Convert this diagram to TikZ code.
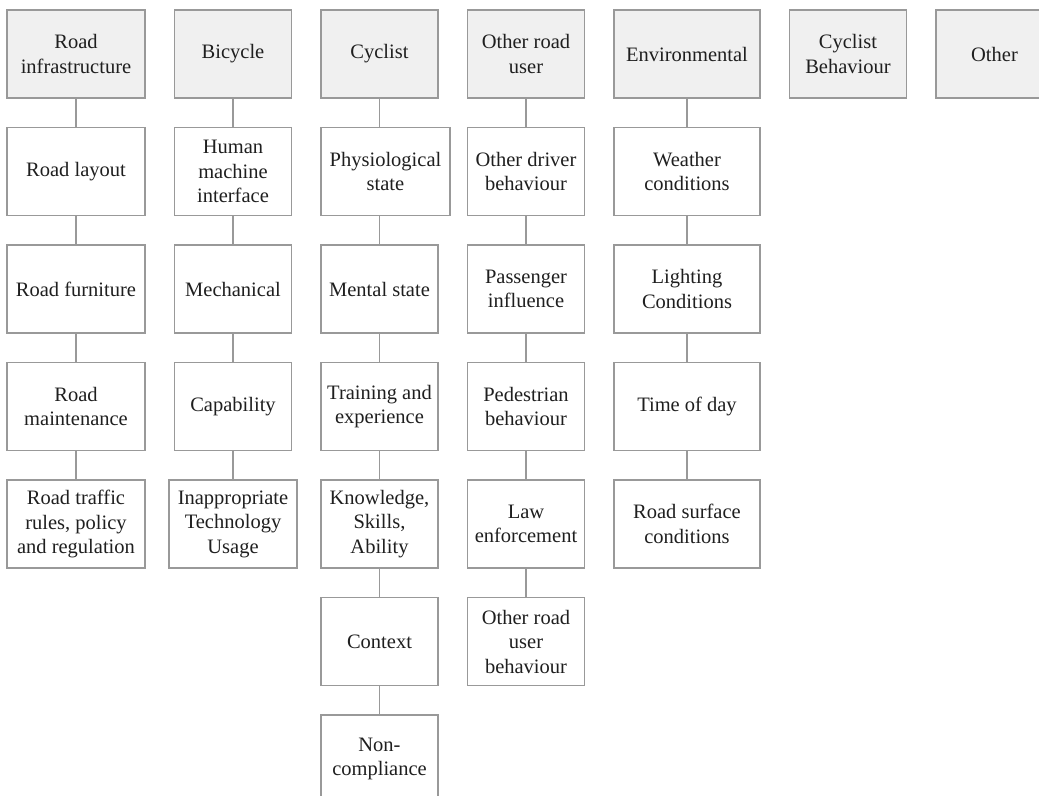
\documentclass[tikz,border=0pt]{standalone}
\usepackage{fontspec}
\setmainfont{Liberation Serif}
\usetikzlibrary{positioning}

\begin{document}
\begin{tikzpicture}[x=0.5pt,y=-0.5pt,node distance = 14.75pt and 14.75pt,
    factor/.style={rectangle,minimum width=58.5pt,minimum height=44pt,inner sep=2pt,outer sep=0pt,draw=black!40,line width=0.6pt,align=center,text=black!88,font=\fontsize{10.25}{12.25}\selectfont},
    catbox/.style={factor,fill=black!6},
    link/.style={draw=black!40,line width=0.6pt},
   ]

    \useasboundingbox (0,0) rectangle (1039,796);

    % top row
    \node (road) [catbox,anchor=north west,style={minimum width=69pt}] at (7,10) {Road\\infrastructure};
    \node (bike) [catbox,right=of road] {Bicycle};
    \node (cyc)  [catbox,right=of bike] {Cyclist};
    \node (oru)  [catbox,right=of cyc]  {Other road\\user};
    \node (env)  [catbox,right=of oru,style={minimum width=73pt}] {Environmental};
    \node (beh)  [catbox,right=of env]  {Cyclist\\Behaviour};
    \node (oth)  [catbox,right=of beh]  {Other};

    % road infrastructure
    \node (road1) [factor,below=of road,style={minimum width=69pt}]  {Road layout};
    \node (road2) [factor,below=of road1,style={minimum width=69pt}] {Road furniture};
    \node (road3) [factor,below=of road2,style={minimum width=69pt}] {Road\\maintenance};
    \node (road4) [factor,below=of road3,style={minimum width=69pt}] {Road traffic\\rules, policy\\and regulation};

    % bicycle
    \node (bike1) [factor,below=of bike]  {Human\\machine\\interface};
    \node (bike2) [factor,below=of bike1] {Mechanical};
    \node (bike3) [factor,below=of bike2] {Capability};
    \node (bike4) [factor,below=of bike3,style={minimum width=64pt}] {Inappropriate\\Technology\\Usage};

    % cyclist
    \node (cyc1) [factor,below=of cyc,xshift=3pt,style={minimum width=64.5pt}] {Physiological\\state};
    \node (cyc2) [factor,below=of cyc1,xshift=-3pt] {Mental state};
    \node (cyc3) [factor,below=of cyc2] {Training and\\experience};
    \node (cyc4) [factor,below=of cyc3] {Knowledge,\\Skills,\\Ability};
    \node (cyc5) [factor,below=of cyc4] {Context};
    \node (cyc6) [factor,below=of cyc5] {Non-\\compliance};

    % other road user
    \node (oru1) [factor,below=of oru]  {Other driver\\behaviour};
    \node (oru2) [factor,below=of oru1] {Passenger\\influence};
    \node (oru3) [factor,below=of oru2] {Pedestrian\\behaviour};
    \node (oru4) [factor,below=of oru3] {Law\\enforcement};
    \node (oru5) [factor,below=of oru4] {Other road\\user\\behaviour};

    % environmental
    \node (env1) [factor,below=of env,style={minimum width=73pt}]  {Weather\\conditions};
    \node (env2) [factor,below=of env1,style={minimum width=73pt}] {Lighting\\Conditions};
    \node (env3) [factor,below=of env2,style={minimum width=73pt}] {Time of day};
    \node (env4) [factor,below=of env3,style={minimum width=73pt}] {Road surface\\conditions};

    \draw[link] (road) -- (road1);
    \draw[link] (road1) -- (road2);
    \draw[link] (road2) -- (road3);
    \draw[link] (road3) -- (road4);

    \draw[link] (bike) -- (bike1);
    \draw[link] (bike1) -- (bike2);
    \draw[link] (bike2) -- (bike3);
    \draw[link] (bike3) -- (bike4);

    \draw[link] (cyc.south) -- (cyc.south |- cyc1.north);
    \draw[link] (cyc1.south -| cyc) -- (cyc2.north);
    \draw[link] (cyc2) -- (cyc3);
    \draw[link] (cyc3) -- (cyc4);
    \draw[link] (cyc4) -- (cyc5);
    \draw[link] (cyc5) -- (cyc6);

    \draw[link] (oru) -- (oru1);
    \draw[link] (oru1) -- (oru2);
    \draw[link] (oru2) -- (oru3);
    \draw[link] (oru3) -- (oru4);
    \draw[link] (oru4) -- (oru5);

    \draw[link] (env) -- (env1);
    \draw[link] (env1) -- (env2);
    \draw[link] (env2) -- (env3);
    \draw[link] (env3) -- (env4);
  \end{tikzpicture}
\end{document}
